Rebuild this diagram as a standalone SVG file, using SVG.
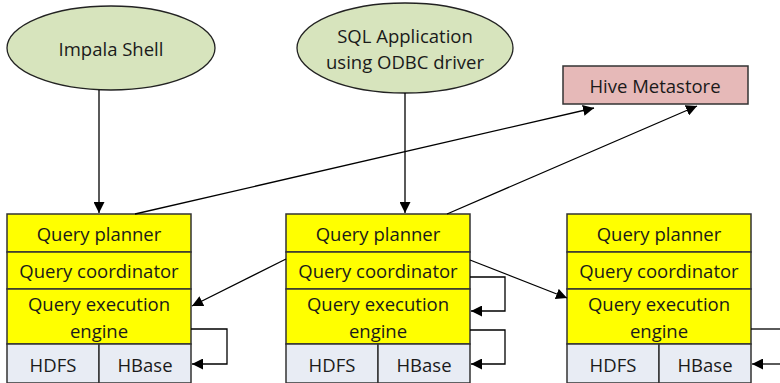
<svg xmlns="http://www.w3.org/2000/svg" width="780" height="383" viewBox="0 0 780 383">
<defs>
<style>
.t{font-family:"Open Sans","Liberation Sans",sans-serif;font-size:18.5px;fill:#1a1a1a;text-anchor:middle;dominant-baseline:central}
.y{fill:#FFFF00;stroke:#333;stroke-width:1.5}
.s{fill:#E8ECF4;stroke:#333;stroke-width:1.5}
.e{fill:#D7E4BD;stroke:#222;stroke-width:1.3}
.c{fill:none;stroke:#000;stroke-width:1.3}
</style>
<marker id="ah" viewBox="0 0 10 10" refX="10" refY="5" markerWidth="11" markerHeight="11" markerUnits="userSpaceOnUse" orient="auto">
<path d="M0,0 L10,5 L0,10 z" fill="#000"/>
</marker>
</defs>
<rect width="780" height="383" fill="#fff"/>

<g id="impala-shell">
<ellipse class="e" cx="111" cy="48" rx="104" ry="42"/>
<text class="t" x="111" y="48">Impala Shell</text>
</g>
<g id="sql-app">
<ellipse class="e" cx="405" cy="48" rx="108" ry="45"/>
<text class="t" x="405" y="35">SQL Application</text>
<text class="t" x="405" y="61">using ODBC driver</text>
</g>
<g id="hive-metastore">
<rect x="563" y="66" width="185" height="38" fill="#E6B9B8" stroke="#333" stroke-width="1.5"/>
<text class="t" x="655" y="85">Hive Metastore</text>
</g>

<g id="node1">
<rect class="y" x="7" y="214" width="184" height="38"/>
<text class="t" x="99" y="233">Query planner</text>
<rect class="y" x="7" y="252" width="184" height="37"/>
<text class="t" x="99" y="270">Query coordinator</text>
<rect class="y" x="7" y="289" width="184" height="55"/>
<text class="t" x="99" y="303">Query execution</text>
<text class="t" x="99" y="330">engine</text>
<rect class="s" x="7" y="344" width="92" height="39"/>
<text class="t" x="53" y="364">HDFS</text>
<rect class="s" x="99" y="344" width="92" height="39"/>
<text class="t" x="145" y="364">HBase</text>
</g>

<g id="node2">
<rect class="y" x="286" y="214" width="184" height="38"/>
<text class="t" x="378" y="233">Query planner</text>
<rect class="y" x="286" y="252" width="184" height="37"/>
<text class="t" x="378" y="270">Query coordinator</text>
<rect class="y" x="286" y="289" width="184" height="55"/>
<text class="t" x="378" y="303">Query execution</text>
<text class="t" x="378" y="330">engine</text>
<rect class="s" x="286" y="344" width="92" height="39"/>
<text class="t" x="332" y="364">HDFS</text>
<rect class="s" x="378" y="344" width="92" height="39"/>
<text class="t" x="424" y="364">HBase</text>
</g>

<g id="node3">
<rect class="y" x="567" y="214" width="184" height="38"/>
<text class="t" x="659" y="233">Query planner</text>
<rect class="y" x="567" y="252" width="184" height="37"/>
<text class="t" x="659" y="270">Query coordinator</text>
<rect class="y" x="567" y="289" width="184" height="55"/>
<text class="t" x="659" y="303">Query execution</text>
<text class="t" x="659" y="330">engine</text>
<rect class="s" x="567" y="344" width="92" height="39"/>
<text class="t" x="613" y="364">HDFS</text>
<rect class="s" x="659" y="344" width="92" height="39"/>
<text class="t" x="705" y="364">HBase</text>
</g>

<g id="connectors">
<path class="c" d="M99,90 L99,213" marker-end="url(#ah)"/>
<path class="c" d="M405,93 L405,213" marker-end="url(#ah)"/>
<path class="c" d="M135,214 L594,108" marker-end="url(#ah)"/>
<path class="c" d="M447,214 L697,106" marker-end="url(#ah)"/>
<path class="c" d="M286,259 L192,306" marker-end="url(#ah)"/>
<path class="c" d="M470,260 L567,298" marker-end="url(#ah)"/>
<path class="c" d="M191,329 L227,329 L227,364 L192,364" marker-end="url(#ah)"/>
<path class="c" d="M470,277 L505,277 L505,311 L471,311" marker-end="url(#ah)"/>
<path class="c" d="M470,330 L505,330 L505,364 L471,364" marker-end="url(#ah)"/>
<path class="c" d="M751,329 L781,329"/>
<path class="c" d="M781,364 L752,364" marker-end="url(#ah)"/>
</g>
</svg>
